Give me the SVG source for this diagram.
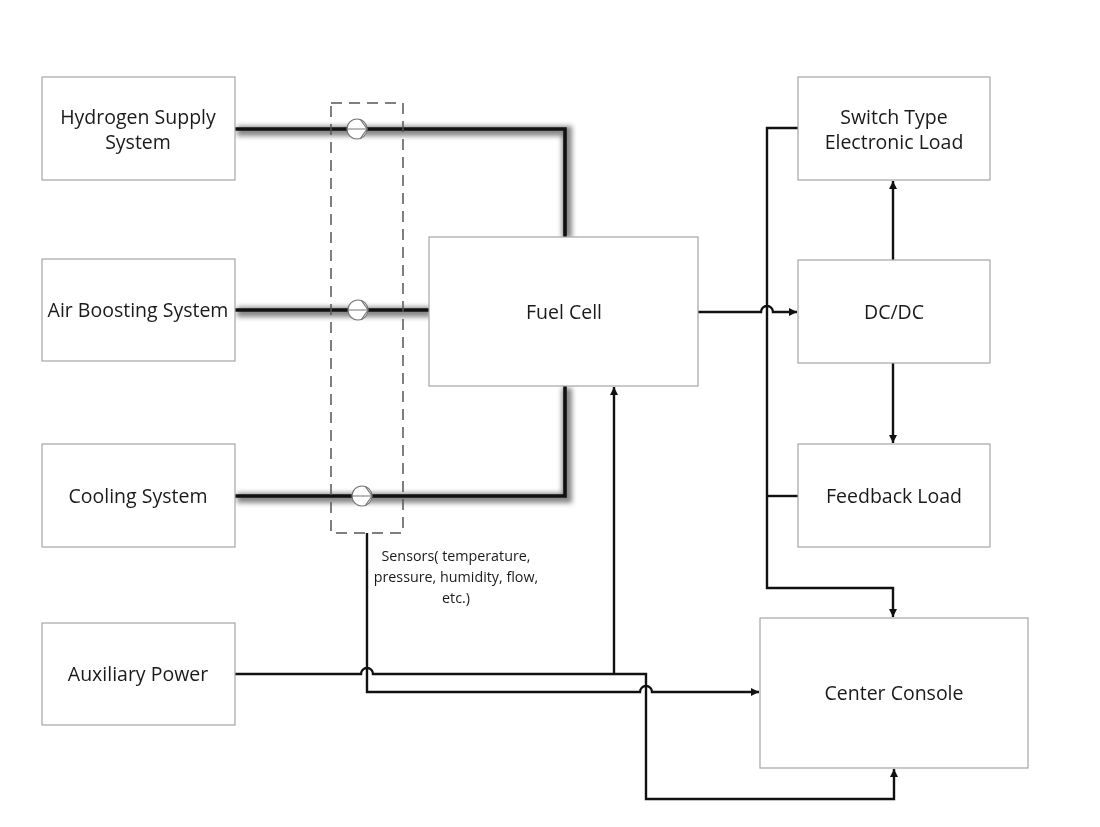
<svg xmlns="http://www.w3.org/2000/svg" width="1100" height="827" viewBox="0 0 1100 827">
<defs>
<style>
.box{fill:#fff;stroke:#a6a6a6;stroke-width:1.2}
.lbl{font-family:"Open Sans","Noto Sans",sans-serif;font-size:19.5px;fill:#1a1a1a;text-anchor:middle}
.small{font-family:"Open Sans","Noto Sans",sans-serif;font-size:14.3px;fill:#1a1a1a;text-anchor:middle}
.wire{fill:none;stroke:#111;stroke-width:2.4}
.pipe{fill:none;stroke:#111;stroke-width:3.6;stroke-linejoin:miter}
.shadow{fill:none;stroke:#555;stroke-width:10;opacity:0.7}
.sensor{fill:#fff;stroke:#777;stroke-width:1.2}
</style>
<filter id="blur" x="-10%" y="-10%" width="120%" height="120%"><feGaussianBlur stdDeviation="2.8"/></filter>
<marker id="arr" viewBox="0 0 10 10" refX="10" refY="5" markerWidth="9" markerHeight="8" markerUnits="userSpaceOnUse" orient="auto"><path d="M0,0 L10,5 L0,10 z" fill="#111"/></marker>
</defs>
<rect width="1100" height="827" fill="#fff"/>

<g id="pipes">
<g filter="url(#blur)">
<path class="shadow" d="M237,131 H567 V238"/>
<path class="shadow" d="M237,312 H431"/>
<path class="shadow" d="M237,498 H567 V388"/>
</g>
<path class="pipe" d="M235,129 H565 V237"/>
<path class="pipe" d="M235,310 H429"/>
<path class="pipe" d="M235,496 H565 V386"/>
</g>

<g id="sensor-box">
<rect x="331" y="103" width="72" height="430" fill="none" stroke="#555" stroke-width="1.5" stroke-dasharray="11,7"/>
</g>

<g id="sensors">
<g transform="translate(357,129)"><circle class="sensor" r="10"/><path d="M-10,0 H10 M3.5,-9.4 L10,0 L3.5,9.4" fill="none" stroke="#777" stroke-width="1.1"/></g>
<g transform="translate(358,310)"><circle class="sensor" r="10"/><path d="M-10,0 H10 M3.5,-9.4 L10,0 L3.5,9.4" fill="none" stroke="#777" stroke-width="1.1"/></g>
<g transform="translate(362,496)"><circle class="sensor" r="10"/><path d="M-10,0 H10 M3.5,-9.4 L10,0 L3.5,9.4" fill="none" stroke="#777" stroke-width="1.1"/></g>
</g>

<g id="connectors">
<path class="wire" d="M367,533 V692 H640 A6,6 0 0 1 652,692 H759" marker-end="url(#arr)"/>
<path class="wire" d="M235,674 H361 A6,6 0 0 1 373,674 H646 V799 H894 V769" marker-end="url(#arr)"/>
<path class="wire" d="M614,674 V387" marker-end="url(#arr)"/>
<path class="wire" d="M698,312 H761 A6,6 0 0 1 773,312 H797" marker-end="url(#arr)"/>
<path class="wire" d="M798,128 H767 V588 H893 V617" marker-end="url(#arr)"/>
<path class="wire" d="M767,496 H798"/>
<path class="wire" d="M893,260 V181" marker-end="url(#arr)"/>
<path class="wire" d="M893,363 V443" marker-end="url(#arr)"/>
</g>

<g id="hydrogen"><rect class="box" x="42" y="77" width="193" height="103"/><text class="lbl" x="138" y="124">Hydrogen Supply</text><text class="lbl" x="138" y="149">System</text></g>
<g id="air"><rect class="box" x="42" y="259" width="193" height="102"/><text class="lbl" x="138" y="317">Air Boosting System</text></g>
<g id="cooling"><rect class="box" x="42" y="444" width="193" height="103"/><text class="lbl" x="138" y="503">Cooling System</text></g>
<g id="auxiliary"><rect class="box" x="42" y="623" width="193" height="102"/><text class="lbl" x="138" y="681">Auxiliary Power</text></g>
<g id="fuelcell"><rect class="box" x="429" y="237" width="269" height="149"/><text class="lbl" x="564" y="319">Fuel Cell</text></g>
<g id="switchload"><rect class="box" x="798" y="77" width="192" height="103"/><text class="lbl" x="894" y="124">Switch Type</text><text class="lbl" x="894" y="149">Electronic Load</text></g>
<g id="dcdc"><rect class="box" x="798" y="260" width="192" height="103"/><text class="lbl" x="894" y="319">DC/DC</text></g>
<g id="feedback"><rect class="box" x="798" y="444" width="192" height="103"/><text class="lbl" x="894" y="503">Feedback Load</text></g>
<g id="console"><rect class="box" x="760" y="618" width="268" height="150"/><text class="lbl" x="894" y="700">Center Console</text></g>

<g id="sensor-label">
<text class="small" x="456" y="561">Sensors( temperature,</text>
<text class="small" x="456" y="582">pressure, humidity, flow,</text>
<text class="small" x="456" y="603">etc.)</text>
</g>
</svg>
